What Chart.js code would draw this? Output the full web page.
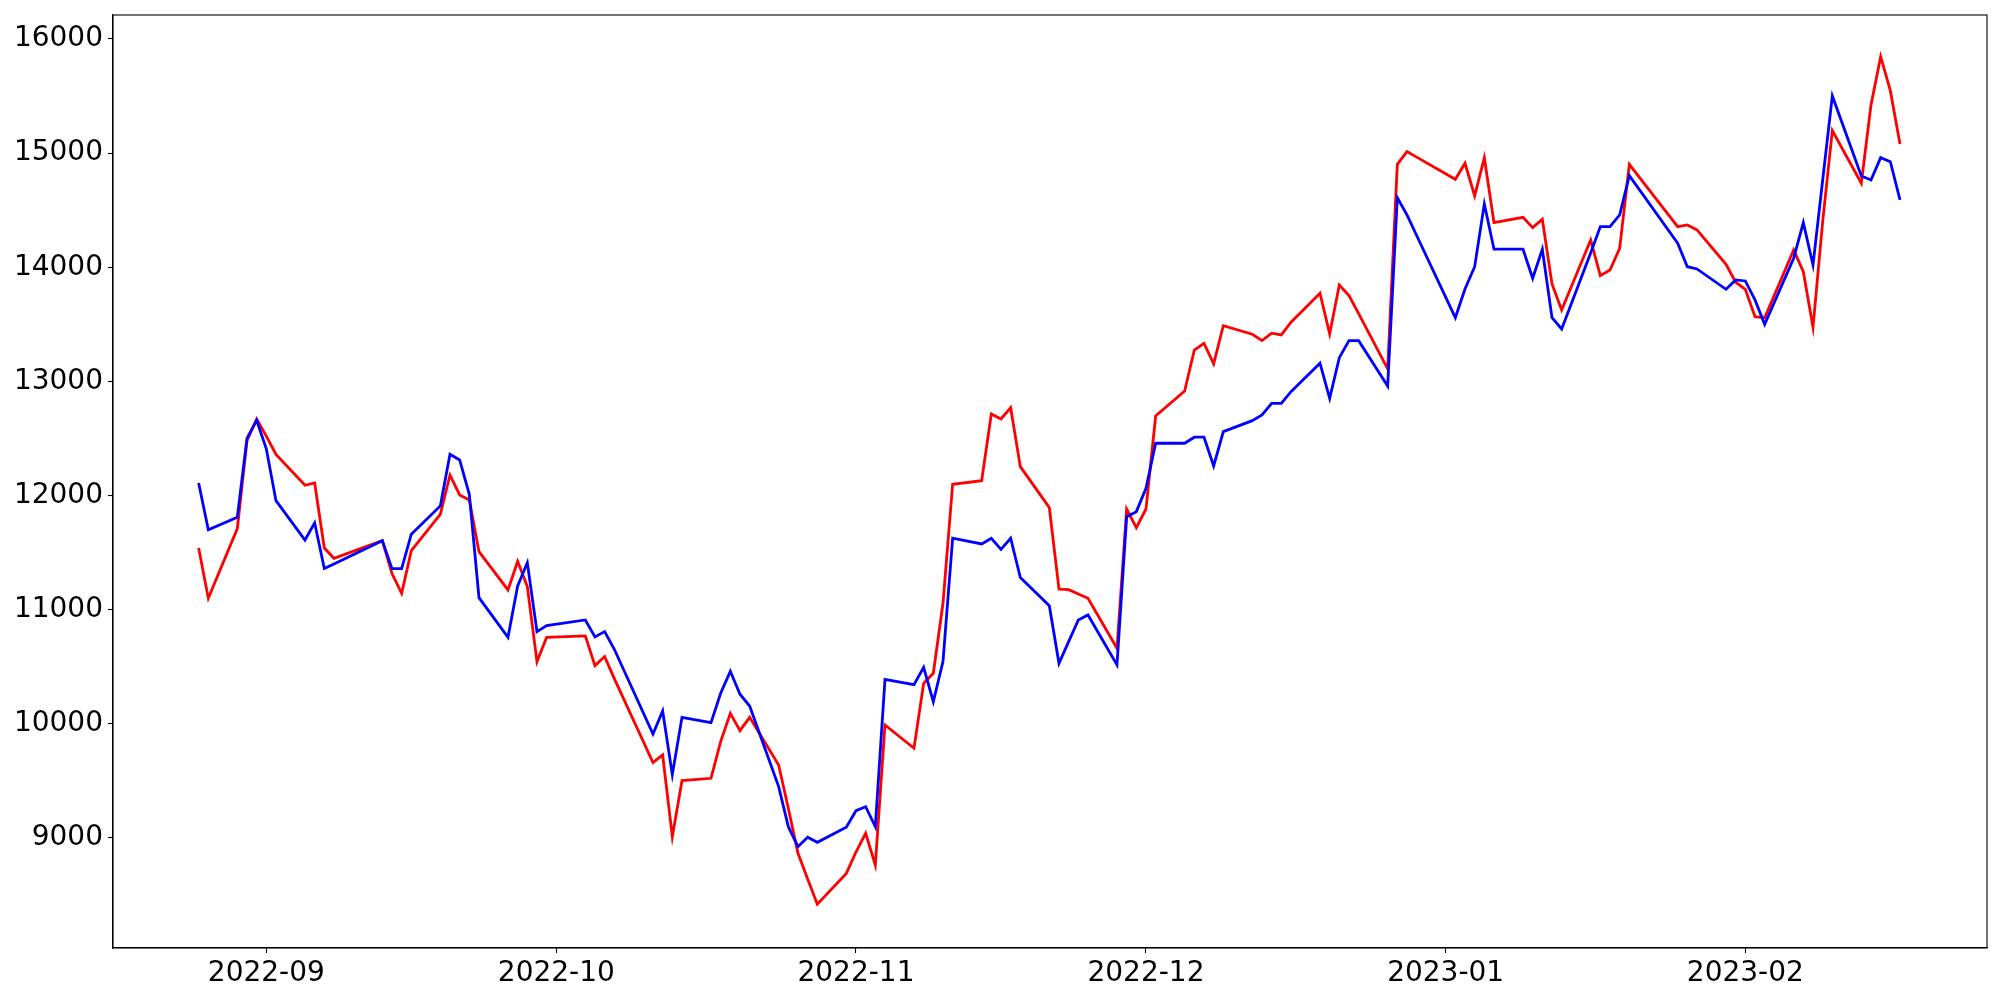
<!DOCTYPE html>
<html>
<head>
<meta charset="utf-8">
<script src="https://cdn.jsdelivr.net/npm/chart.js@4/dist/chart.umd.min.js"></script>
<style>
  html, body { margin: 0; padding: 0; background: #fff; }
  #wrap { width: 2000px; height: 1000px; position: relative; }
</style>
</head>
<body>
<div id="wrap"><canvas id="priceChart"></canvas></div>
<script>
// trading days shown in the chart
const dates = [
  '2022-08-25','2022-08-26','2022-08-29','2022-08-30','2022-08-31','2022-09-01','2022-09-02',
  '2022-09-05','2022-09-06','2022-09-07','2022-09-08','2022-09-13','2022-09-14','2022-09-15','2022-09-16',
  '2022-09-19','2022-09-20','2022-09-21','2022-09-22','2022-09-23',
  '2022-09-26','2022-09-27','2022-09-28','2022-09-29','2022-09-30',
  '2022-10-04','2022-10-05','2022-10-06','2022-10-07',
  '2022-10-11','2022-10-12','2022-10-13','2022-10-14',
  '2022-10-17','2022-10-18','2022-10-19','2022-10-20','2022-10-21',
  '2022-10-24','2022-10-25','2022-10-26','2022-10-27','2022-10-28',
  '2022-10-31','2022-11-01','2022-11-02','2022-11-03','2022-11-04',
  '2022-11-07','2022-11-08','2022-11-09','2022-11-10','2022-11-11',
  '2022-11-14','2022-11-15','2022-11-16','2022-11-17','2022-11-18',
  '2022-11-21','2022-11-22','2022-11-23','2022-11-24','2022-11-25',
  '2022-11-28','2022-11-29','2022-11-30','2022-12-01','2022-12-02',
  '2022-12-05','2022-12-06','2022-12-07','2022-12-08','2022-12-09',
  '2022-12-12','2022-12-13','2022-12-14','2022-12-15','2022-12-16',
  '2022-12-19','2022-12-20','2022-12-21','2022-12-22','2022-12-23',
  '2022-12-26','2022-12-27','2022-12-28','2022-12-29',
  '2023-01-02','2023-01-03','2023-01-04','2023-01-05','2023-01-06',
  '2023-01-09','2023-01-10','2023-01-11','2023-01-12','2023-01-13',
  '2023-01-16','2023-01-17','2023-01-18','2023-01-19','2023-01-20',
  '2023-01-25','2023-01-26','2023-01-27',
  '2023-01-30','2023-01-31','2023-02-01','2023-02-02','2023-02-03',
  '2023-02-06','2023-02-07','2023-02-08','2023-02-09','2023-02-10',
  '2023-02-13','2023-02-14','2023-02-15','2023-02-16','2023-02-17'
];

const redValues = [
  11540, 11100, 11710, 12480, 12670, 12520, 12360,
  12090, 12110, 11540, 11450, 11605, 11316, 11144, 11517,
  11836, 12180, 12005, 11961, 11508,
  11173, 11424, 11202, 10545, 10758,
  10770, 10510, 10589, 10396,
  9660, 9727, 9011, 9502,
  9523, 9844, 10092, 9940, 10057,
  9640, 9260, 8866, 8640, 8420,
  8690, 8877, 9041, 8763, 9990,
  9786, 10355, 10443, 11056, 12099,
  12130, 12715, 12671, 12770, 12253,
  11894, 11180, 11175, 11138, 11100,
  10662, 11882, 11719, 11882, 12697,
  12916, 13275, 13334, 13153, 13488,
  13413, 13357, 13422, 13407, 13518,
  13772, 13416, 13845, 13751, 13594,
  13110, 14902, 15013, 14965,
  14771, 14911, 14625, 14960, 14391,
  14438, 14347, 14420, 13854, 13626,
  14239, 13926, 13976, 14166, 14902,
  14356, 14371, 14327,
  14026, 13869, 13807, 13567, 13558,
  14152, 13961, 13474, 14400, 15197,
  14736, 15422, 15845, 15547, 15080
];

const blueValues = [
  12110, 11700, 11810, 12500, 12660, 12410, 11955,
  11610, 11760, 11360, 11400, 11605, 11360, 11360, 11661,
  11909, 12362, 12312, 12011, 11105,
  10758, 11208, 11412, 10808, 10860,
  10910, 10761, 10808, 10653,
  9911, 10113, 9555, 10057,
  10010, 10268, 10460, 10259, 10156,
  9450, 9099, 8924, 9006, 8962,
  9094, 9239, 9274, 9099, 10390,
  10343, 10495, 10194, 10545, 11626,
  11576, 11626, 11529, 11626, 11281,
  11035, 10530, 10720, 10910, 10954,
  10516, 11815, 11859, 12064, 12458,
  12458, 12511, 12511, 12259, 12560,
  12656, 12706, 12808, 12808, 12910,
  13159, 12852, 13208, 13357, 13357,
  12960, 14610, 14458, 14278,
  13558, 13810, 14005, 14555, 14158,
  14158, 13904, 14158, 13558, 13459,
  14125, 14356, 14356, 14458, 14803,
  14210, 14005, 13985,
  13807, 13889, 13880, 13714, 13500,
  14079, 14391, 14020, 14762, 15501,
  14800, 14765, 14960, 14925, 14590
];

const xTickDates = ['2022-09-01','2022-10-01','2022-11-01','2022-12-01','2023-01-01','2023-02-01'];
const xTickLabels = ['2022-09','2022-10','2022-11','2022-12','2023-01','2023-02'];
const yTickValues = [9000, 10000, 11000, 12000, 13000, 14000, 15000, 16000];

function dayNum(s) {
  const p = s.split('-').map(Number);
  return Date.UTC(p[0], p[1] - 1, p[2]) / 86400000;
}

const xTickPos = xTickDates.map(dayNum);
const redPoints = dates.map((d, i) => ({ x: dayNum(d), y: redValues[i] }));
const bluePoints = dates.map((d, i) => ({ x: dayNum(d), y: blueValues[i] }));

const base = dayNum('2022-09-01');
const tickFont = { family: 'DejaVu Sans', size: 28 };

// matplotlib-like box around the plot area
const frame = {
  id: 'frame',
  afterDraw(chart) {
    const a = chart.chartArea;
    const ctx = chart.ctx;
    ctx.save();
    ctx.strokeStyle = '#000';
    ctx.lineWidth = 1.1;
    ctx.strokeRect(a.left, a.top, a.right - a.left, a.bottom - a.top);
    ctx.restore();
  }
};

new Chart(document.getElementById('priceChart'), {
  type: 'line',
  data: {
    datasets: [
      { data: redPoints, borderColor: '#ff0000', borderWidth: 2.8, pointRadius: 0, tension: 0, fill: false, order: 2 },
      { data: bluePoints, borderColor: '#0000ff', borderWidth: 2.8, pointRadius: 0, tension: 0, fill: false, order: 1 }
    ]
  },
  options: {
    responsive: true,
    maintainAspectRatio: false,
    animation: false,
    devicePixelRatio: 1,
    layout: { padding: { top: 15, right: 13, left: 0, bottom: 0 } },
    plugins: { legend: { display: false }, tooltip: { enabled: false } },
    scales: {
      x: {
        type: 'linear',
        min: base - 15.86,
        max: base + 178.0,
        afterBuildTicks: scale => { scale.ticks = xTickPos.map(v => ({ value: v })); },
        afterFit: scale => {
          scale.height = 52;
          scale.paddingLeft = 0; scale.paddingRight = 0;
        },
        ticks: {
          autoSkip: false, maxRotation: 0, padding: 4, color: '#000', font: tickFont,
          callback: v => { const i = xTickPos.indexOf(v); return i >= 0 ? xTickLabels[i] : ''; }
        },
        grid: { display: true, drawOnChartArea: false, drawTicks: true, tickLength: 5, tickColor: '#000', tickWidth: 1.1 },
        border: { display: true, color: '#000', width: 1.1 }
      },
      y: {
        type: 'linear',
        min: 8036,
        max: 16210,
        afterBuildTicks: scale => { scale.ticks = yTickValues.map(v => ({ value: v })); },
        afterFit: scale => {
          scale.width = 113;
          scale.paddingTop = 0; scale.paddingBottom = 0;
        },
        ticks: { padding: 5, color: '#000', font: tickFont, callback: v => String(v) },
        grid: { display: true, drawOnChartArea: false, drawTicks: true, tickLength: 5, tickColor: '#000', tickWidth: 1.1 },
        border: { display: true, color: '#000', width: 1.1 }
      }
    }
  },
  plugins: [frame]
});
</script>
</body>
</html>
